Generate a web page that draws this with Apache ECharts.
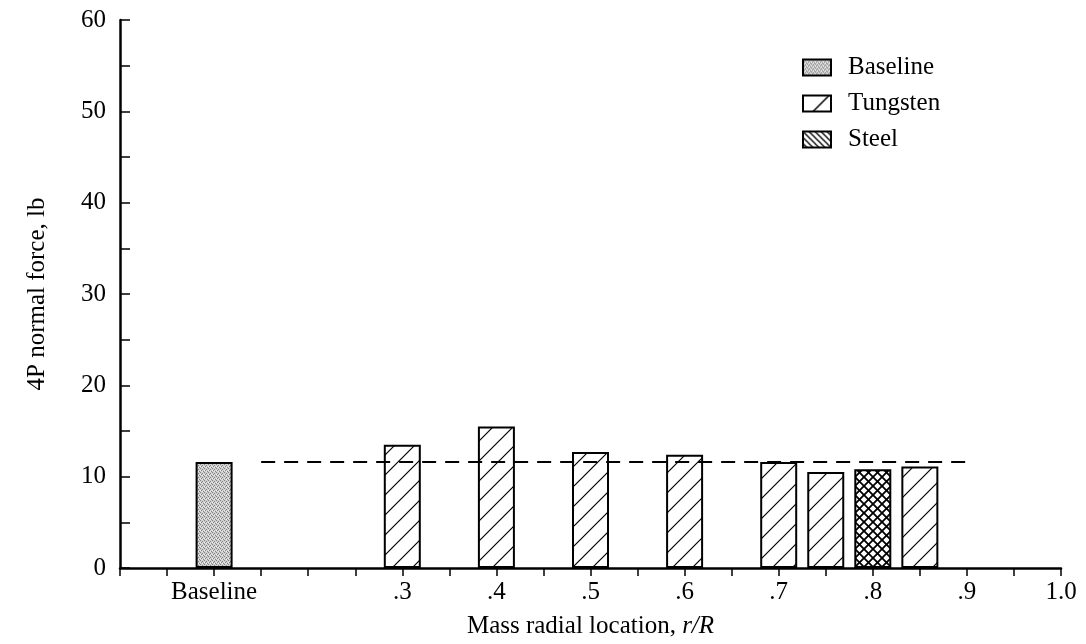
<!DOCTYPE html>
<html>
<head>
<meta charset="utf-8">
<script src="https://cdn.jsdelivr.net/npm/echarts@6/dist/echarts.min.js"></script>
<style>
html,body{margin:0;padding:0;background:#fff;}
#chart{width:1086px;height:644px;}
</style>
</head>
<body>
<div id="chart"></div>
<script>
// ---- data ----
var baselineX = [0.1];
var baselineY = [11.6];
var tungstenX = [0.3, 0.4, 0.5, 0.6, 0.7, 0.75, 0.85];
var tungstenY = [13.5, 15.5, 12.7, 12.4, 11.6, 10.5, 11.1];
var steelX = [0.8];
var steelY = [10.8];
var refLineX = [0.15, 0.9];
var refLineY = [11.6, 11.6];
var xTickValues = [0.1, 0.3, 0.4, 0.5, 0.6, 0.7, 0.8, 0.9, 1.0];
var xTickLabels = ['Baseline', '.3', '.4', '.5', '.6', '.7', '.8', '.9', '1.0'];
var yTickValues = [0, 10, 20, 30, 40, 50, 60];

function pairs(xs, ys) { return xs.map(function (x, i) { return [x, ys[i]]; }); }

// ---- fill patterns ----
function hatchCanvas(size, dirs, lw, bg) {
  var c = document.createElement('canvas');
  c.width = size; c.height = size;
  var g = c.getContext('2d');
  g.fillStyle = bg || '#fff';
  g.fillRect(0, 0, size, size);
  g.strokeStyle = '#000';
  g.lineWidth = lw;
  g.lineCap = 'square';
  dirs.forEach(function (d) {
    g.beginPath();
    if (d === '/') {
      g.moveTo(0, size); g.lineTo(size, 0);
      g.moveTo(-size / 2, size / 2); g.lineTo(size / 2, -size / 2);
      g.moveTo(size / 2, size * 1.5); g.lineTo(size * 1.5, size / 2);
    } else {
      g.moveTo(0, 0); g.lineTo(size, size);
      g.moveTo(-size / 2, size / 2); g.lineTo(size / 2, size * 1.5);
      g.moveTo(size / 2, -size / 2); g.lineTo(size * 1.5, size / 2);
    }
    g.stroke();
  });
  return c;
}
function stippleCanvas() {
  var c = document.createElement('canvas');
  c.width = 4; c.height = 4;
  var g = c.getContext('2d');
  g.fillStyle = '#d0d0d0';
  g.fillRect(0, 0, 4, 4);
  g.fillStyle = '#808080';
  g.fillRect(0, 0, 1, 1); g.fillRect(2, 1, 1, 1);
  g.fillRect(1, 2, 1, 1); g.fillRect(3, 3, 1, 1);
  g.fillStyle = '#eeeeee';
  g.fillRect(2, 3, 1, 1); g.fillRect(0, 2, 1, 1);
  return c;
}
var pStipple = { image: stippleCanvas(), repeat: 'repeat' };
var pTung = { image: hatchCanvas(20, ['/'], 1.2), repeat: 'repeat' };
var pSteel = { image: hatchCanvas(9, ['/', '\\'], 1.8), repeat: 'repeat' };
var pTungLegend = { image: hatchCanvas(26, ['/'], 1.5), repeat: 'repeat' };
var pSteelLegend = { image: hatchCanvas(6, ['\\'], 1.3), repeat: 'repeat' };

var FONT = 'Liberation Serif';
var FS = 25;
var chart = echarts.init(document.getElementById('chart'), null, { renderer: 'canvas' });

function barSeries(name, xs, ys, fill) {
  return {
    name: name,
    type: 'bar',
    data: pairs(xs, ys),
    barWidth: 37,
    barGap: '-100%',
    itemStyle: { color: fill, borderColor: '#000', borderWidth: 2 },
    emphasis: { disabled: true },
    z: 2
  };
}

chart.setOption({
  animation: false,
  backgroundColor: '#fff',
  grid: { left: 120, right: 25, top: 20, bottom: 76 },
  legend: {
    orient: 'vertical',
    left: 797,
    top: 50,
    itemWidth: 28,
    itemHeight: 16,
    itemGap: 11,
    selectedMode: false,
    textStyle: { fontFamily: FONT, fontSize: FS, color: '#000', padding: [0, 0, 0, 12] },
    data: [
      { name: 'Baseline', icon: 'rect', itemStyle: { color: pStipple, borderColor: '#000', borderWidth: 2 } },
      { name: 'Tungsten', icon: 'rect', itemStyle: { color: pTungLegend, borderColor: '#000', borderWidth: 2 } },
      { name: 'Steel', icon: 'rect', itemStyle: { color: pSteelLegend, borderColor: '#000', borderWidth: 2 } }
    ]
  },
  xAxis: {
    type: 'value',
    min: 0,
    max: 1,
    interval: 0.05,
    name: 'Mass radial location, {i|r/R}',
    nameLocation: 'middle',
    nameGap: 46,
    nameTextStyle: {
      fontFamily: FONT, fontSize: FS, color: '#000',
      rich: { i: { fontFamily: FONT, fontSize: FS, fontStyle: 'italic', color: '#000' } }
    },
    axisLine: { show: true, lineStyle: { color: '#000', width: 2.5 } },
    axisTick: { show: true, inside: false, length: 8, lineStyle: { color: '#000', width: 1.5 } },
    axisLabel: {
      fontFamily: FONT, fontSize: FS, color: '#000', margin: 12,
      showMinLabel: true, showMaxLabel: true, hideOverlap: false,
      formatter: function (v) {
        var r = Math.round(v * 100) / 100;
        var idx = xTickValues.findIndex(function (t) { return Math.abs(t - r) < 1e-6; });
        return idx >= 0 ? xTickLabels[idx] : '';
      }
    },
    splitLine: { show: false }
  },
  yAxis: {
    type: 'value',
    min: 0,
    max: 60,
    interval: 5,
    name: '4P normal force, lb',
    nameLocation: 'middle',
    nameGap: 70,
    nameTextStyle: { fontFamily: FONT, fontSize: FS, color: '#000' },
    axisLine: { show: true, lineStyle: { color: '#000', width: 2.5 } },
    axisTick: { show: true, inside: true, length: 10, lineStyle: { color: '#000', width: 1.5 } },
    axisLabel: {
      fontFamily: FONT, fontSize: FS, color: '#000', margin: 14,
      formatter: function (v) {
        return yTickValues.indexOf(Math.round(v)) >= 0 ? String(Math.round(v)) : '';
      }
    },
    splitLine: { show: false }
  },
  series: [
    barSeries('Baseline', baselineX, baselineY, pStipple),
    barSeries('Tungsten', tungstenX, tungstenY, pTung),
    barSeries('Steel', steelX, steelY, pSteel),
    {
      name: 'ref',
      type: 'line',
      data: pairs(refLineX, refLineY),
      symbol: 'none',
      lineStyle: { color: '#000', width: 2, type: [14, 9] },
      z: 5,
      silent: true
    }
  ]
});
</script>
</body>
</html>
